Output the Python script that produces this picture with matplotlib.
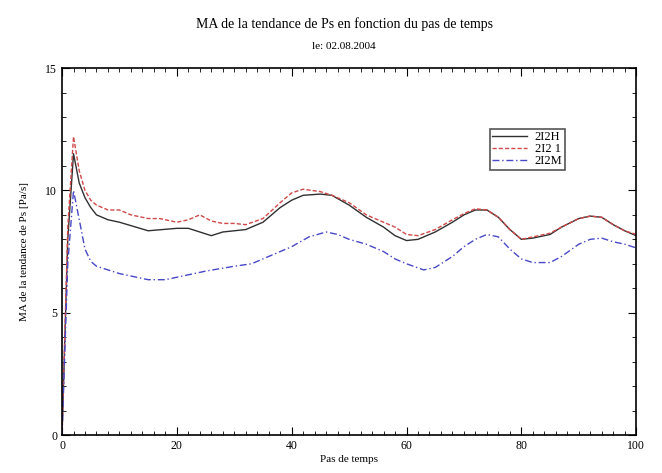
import matplotlib.pyplot as plt
from matplotlib.ticker import MultipleLocator

plt.rcParams['font.family'] = ['Liberation Serif', 'DejaVu Serif']

x_h = [0, 1, 2, 3, 4, 5, 6, 8, 10, 15, 20, 22, 24, 26, 28, 30, 32, 35, 38, 40, 42, 45, 47,
       50, 53, 56, 58, 60, 62, 65, 68, 70, 72, 74, 76, 78, 80, 82, 85, 87, 90, 92, 94, 96, 98, 100]
y_h = [0, 8.0, 11.5, 10.3, 9.7, 9.3, 9.0, 8.8, 8.7, 8.35, 8.45, 8.45, 8.3, 8.15, 8.3, 8.35, 8.4, 8.7,
       9.3, 9.6, 9.8, 9.85, 9.8, 9.4, 8.9, 8.5, 8.15, 7.95, 8.0, 8.3, 8.7, 9.0, 9.2, 9.2, 8.9, 8.4,
       8.0, 8.05, 8.2, 8.5, 8.85, 8.95, 8.9, 8.6, 8.35, 8.15]

x_1 = [0, 1, 2, 3, 4, 5, 6, 8, 10, 12, 15, 17, 20, 22, 24, 26, 28, 30, 32, 35, 38, 40, 42, 45, 47,
       50, 53, 56, 58, 60, 62, 65, 68, 70, 72, 74, 76, 78, 80, 82, 85, 87, 90, 92, 94, 96, 98, 100]
y_1 = [0, 8.5, 12.2, 10.8, 10.0, 9.6, 9.4, 9.2, 9.2, 9.0, 8.85, 8.85, 8.7, 8.8, 9.0, 8.75, 8.65, 8.65,
       8.6, 8.85, 9.5, 9.9, 10.05, 9.95, 9.8, 9.5, 9.0, 8.7, 8.5, 8.2, 8.15, 8.4, 8.8, 9.05, 9.25,
       9.2, 8.9, 8.4, 8.0, 8.1, 8.25, 8.5, 8.85, 8.95, 8.9, 8.6, 8.35, 8.2]

x_m = [0, 1, 2, 3, 4, 5, 6, 8, 10, 15, 18, 20, 25, 30, 33, 35, 38, 40, 43, 46, 48, 50, 53, 56, 58,
       60, 63, 65, 68, 70, 72, 74, 76, 78, 80, 82, 85, 87, 90, 92, 94, 96, 98, 100]
y_m = [0, 7.0, 10.0, 8.8, 7.6, 7.1, 6.9, 6.75, 6.6, 6.35, 6.35, 6.45, 6.7, 6.9, 7.0, 7.2, 7.5, 7.7,
       8.1, 8.3, 8.2, 8.0, 7.8, 7.5, 7.2, 7.0, 6.75, 6.85, 7.3, 7.7, 8.0, 8.2, 8.1, 7.6, 7.2, 7.05,
       7.05, 7.3, 7.8, 8.0, 8.05, 7.9, 7.8, 7.65]

fig = plt.figure(figsize=(6.62, 4.73), dpi=100)
ax = fig.add_axes([0.0937, 0.0803, 0.8673, 0.7757])

ax.plot(x_h, y_h, color='#303030', lw=1.0, label='2I2H')
ax.plot(x_1, y_1, color='#d04848', lw=1.0, ls=(0, (3, 1.5)), label='2I2 1')
ax.plot(x_m, y_m, color='#4848c8', lw=1.0, ls=(0, (5, 2, 1, 2)), label='2I2M')

ax.set_xlim(0, 100)
ax.set_ylim(0, 15)
ax.xaxis.set_major_locator(MultipleLocator(20))
ax.xaxis.set_minor_locator(MultipleLocator(2))
ax.yaxis.set_major_locator(MultipleLocator(5))
ax.yaxis.set_minor_locator(MultipleLocator(1))
ax.tick_params(which='both', direction='in', top=True, right=True, labelsize=8.5)
ax.tick_params(which='major', length=6)
ax.tick_params(which='minor', length=3)
for s in ax.spines.values():
    s.set_linewidth(1.2)

ax.set_xlabel('Pas de temps', fontsize=8, labelpad=2)
ax.set_ylabel('MA de la tendance de Ps [Pa/s]', fontsize=8, labelpad=12)
fig.text(0.52, 0.94, 'MA de la tendance de Ps en fonction du pas de temps',
         ha='center', fontsize=10)
fig.text(0.52, 0.897, 'le: 02.08.2004', ha='center', fontsize=8)

leg = ax.legend(loc='upper left', bbox_to_anchor=(0.745, 0.835), fontsize=9,
                fancybox=False, framealpha=1, edgecolor='#555555', handlelength=2.8,
                borderpad=0.2, labelspacing=0.0, handletextpad=0.6, borderaxespad=0)
leg.get_frame().set_linewidth(1.2)

fig.savefig('out.png', dpi=100)
